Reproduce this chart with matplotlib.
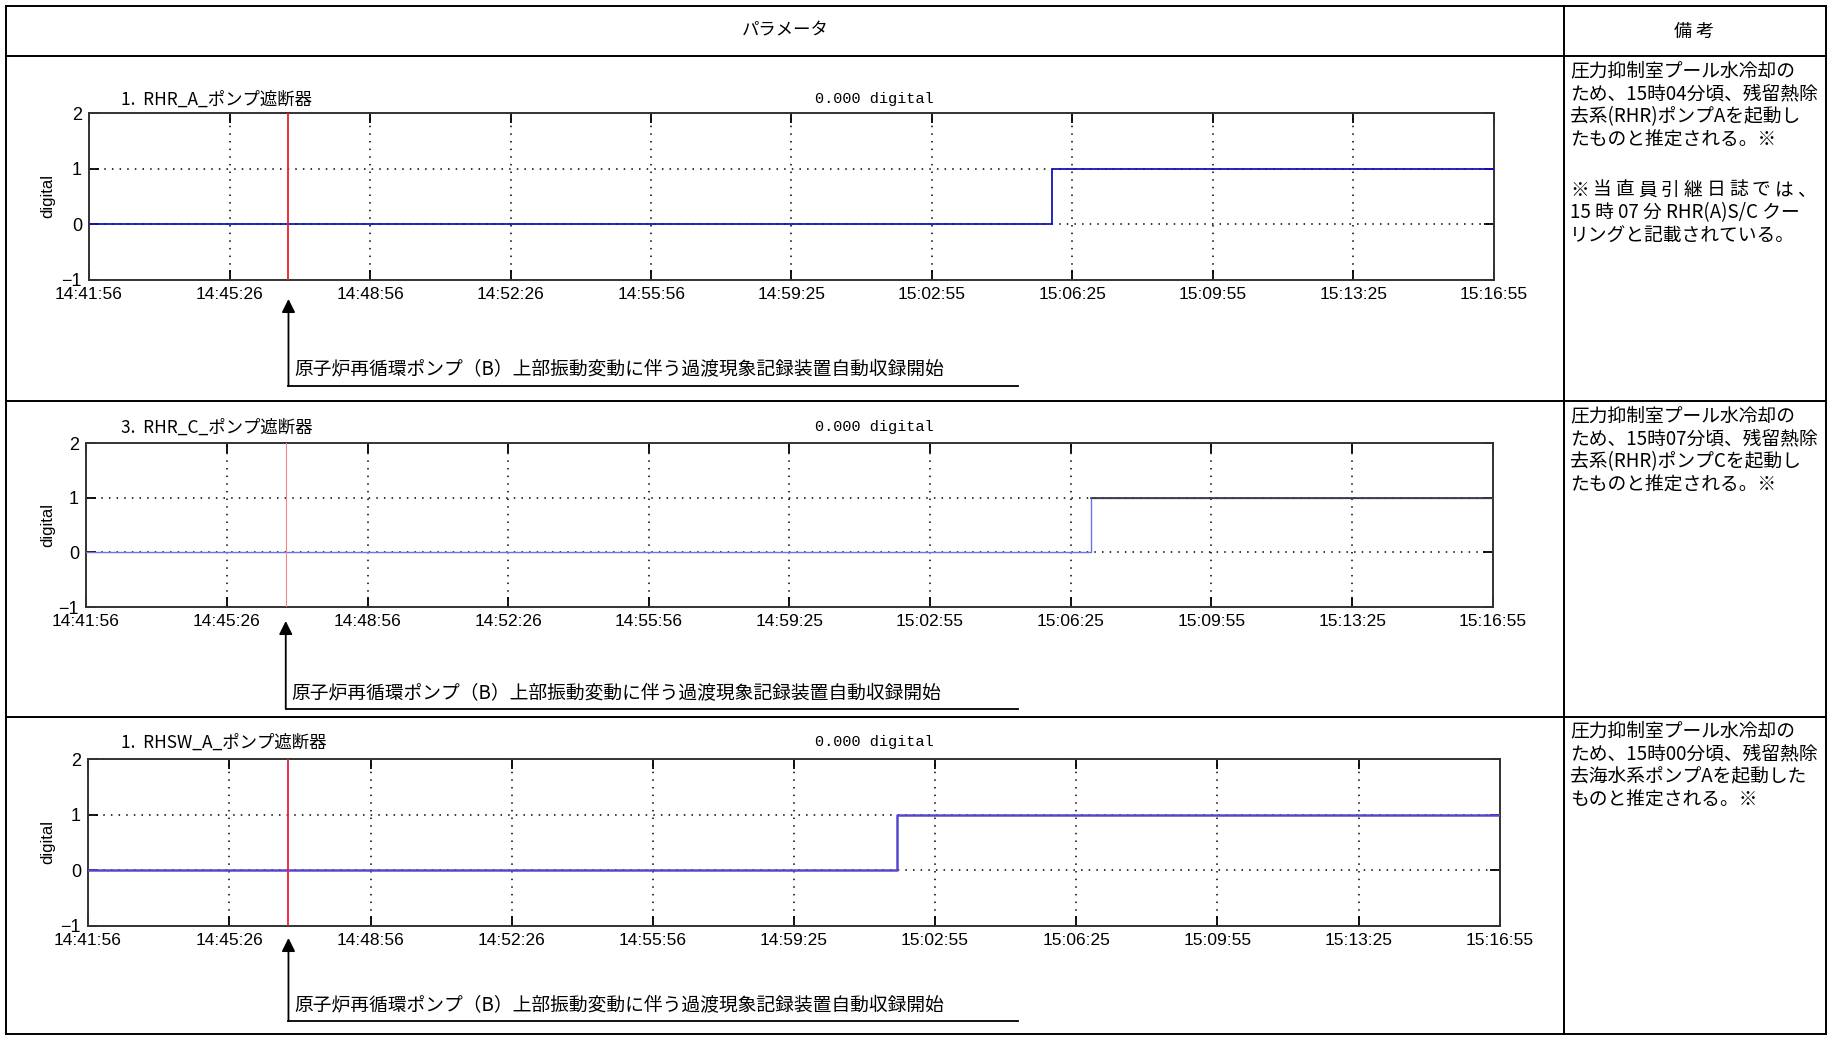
import numpy as np
import matplotlib
matplotlib.use("Agg")
import matplotlib.pyplot as plt

W, H = 1829, 1038

plt.rcParams['font.family'] = ['Noto Sans CJK JP', 'DejaVu Sans']
NARROW = ['Liberation Sans Narrow', 'Liberation Sans', 'DejaVu Sans']

# ---- data ----
TICK_LABELS = ["14:41:56", "14:45:26", "14:48:56", "14:52:26", "14:55:56", "14:59:25",
               "15:02:55", "15:06:25", "15:09:55", "15:13:25", "15:16:55"]
Y_TICKS = [-1, 0, 1, 2]

TITLES = ["1.  RHR_A_ポンプ遮断器", "3.  RHR_C_ポンプ遮断器", "1.  RHSW_A_ポンプ遮断器"]
READOUTS = ["0.000 digital", "0.000 digital", "0.000 digital"]

rhr_a_times = ["14:41:56", "15:05:55", "15:16:55"]
rhr_a_values = [0, 1, 1]
rhr_c_times = ["14:41:56", "15:06:55", "15:16:55"]
rhr_c_values = [0, 1, 1]
rhsw_a_times = ["14:41:56", "15:01:58", "15:16:55"]
rhsw_a_values = [0, 1, 1]

TRIGGER_TIME = "14:46:54"
TRIGGER_NOTE = "原子炉再循環ポンプ（B）上部振動変動に伴う過渡現象記録装置自動収録開始"

HEADER_LEFT = "パラメータ"
HEADER_RIGHT = "備 考"

remark_a1 = ["圧力抑制室プール水冷却の", "ため、15時04分頃、残留熱除",
             "去系(RHR)ポンプAを起動し", "たものと推定される。※"]
remark_a2 = ["※当直員引継日誌では、", "15 時 07 分 RHR(A)S/C クー",
             "リングと記載されている。"]
remark_c = ["圧力抑制室プール水冷却の", "ため、15時07分頃、残留熱除",
            "去系(RHR)ポンプCを起動し", "たものと推定される。※"]
remark_sw = ["圧力抑制室プール水冷却の", "ため、15時00分頃、残留熱除",
             "去海水系ポンプAを起動した", "ものと推定される。※"]
JUSTIFIED = {"※当直員引継日誌では、"}


def secs(s):
    h, m, x = map(int, s.split(":"))
    return h * 3600 + m * 60 + x - (14 * 3600 + 41 * 60 + 56)


# ---- layout (pixels, top-left origin) ----
ROWS = [
    dict(box=(89, 113, 1494, 280), title_y=100, tip=299, line_y=386, note_y=370,
         times=rhr_a_times, values=rhr_a_values, color='#1414b4', lw=1.3,
         red='#e8202a', red_lw=1.3, high=None, remark=[(71, remark_a1), (190, remark_a2)]),
    dict(box=(86, 443, 1493, 607), title_y=428, tip=621, line_y=709, note_y=694,
         times=rhr_c_times, values=rhr_c_values, color='#7070e8', lw=1.0,
         red='#f08a8a', red_lw=0.8, high='#333333', remark=[(416, remark_c)]),
    dict(box=(88, 759, 1500, 926), title_y=743, tip=938, line_y=1021, note_y=1006,
         times=rhsw_a_times, values=rhsw_a_values, color='#5548d0', lw=1.8,
         red='#e8203c', red_lw=1.3, high=None, remark=[(731, remark_sw)]),
]
REMARK_X, REMARK_END, PITCH, REMARK_FS = 1570, 1816, 23, 13.5

fig = plt.figure(figsize=(W / 100, H / 100), dpi=100)
ov = fig.add_axes([0, 0, 1, 1])
ov.set_xlim(0, W)
ov.set_ylim(H, 0)
ov.axis('off')

# table frame
L, T, R, B = 6, 6, 1826, 1034
COL = 1564
for y in [T, 56, 401, 717, B]:
    ov.plot([L, R], [y, y], color='black', lw=1.4)
for x in [L, COL, R]:
    ov.plot([x, x], [T, B], color='black', lw=1.4)
ov.text(785, 30, HEADER_LEFT, ha='center', va='center', fontsize=12.5)
ov.text(1694, 32, HEADER_RIGHT, ha='center', va='center', fontsize=13)

tick_pos = [secs(t) for t in TICK_LABELS]
for row, title, readout in zip(ROWS, TITLES, READOUTS):
    l, t, r, b = row['box']
    ax = fig.add_axes([l / W, 1 - b / H, (r - l) / W, (b - t) / H])
    ts = [secs(s) for s in row['times']]
    ax.plot(ts, row['values'], drawstyle='steps-post', color=row['color'], lw=row['lw'], zorder=3)
    if row['high']:
        ax.plot(ts[1:], row['values'][1:], color=row['high'], lw=1.2, zorder=4)
    ax.axvline(secs(TRIGGER_TIME), color=row['red'], lw=row['red_lw'], zorder=5)
    ax.set_xlim(tick_pos[0], tick_pos[-1])
    ax.set_ylim(-1, 2)
    ax.set_xticks(tick_pos)
    ax.set_xticklabels(TICK_LABELS, family=NARROW, fontsize=12.5)
    ax.set_yticks(Y_TICKS)
    ax.set_yticklabels([str(v).replace('-', '\u2212') for v in Y_TICKS], family=NARROW, fontsize=13)
    ax.grid(True, color='black', linestyle=(0, (1, 4)), linewidth=1.1)
    ax.tick_params(direction='in', length=7, width=1.3, top=True, right=True, pad=5)
    for sp in ax.spines.values():
        sp.set_linewidth(1.4)
        sp.set_color('#333333')
    ax.set_ylabel('digital', family=['Liberation Sans', 'DejaVu Sans'], fontsize=12)
    ax.yaxis.set_label_coords((55 - l) / (r - l), 0.5)

    ov.text(121, row['title_y'], title, ha='left', va='center', fontsize=12.5)
    ov.text(874, row['title_y'] - 1, readout, ha='center', va='center',
            family=['Liberation Mono', 'DejaVu Sans Mono'], fontsize=11)

    # trigger arrow and note
    rx = ax.transData.transform((secs(TRIGGER_TIME), 0))[0]
    ov.annotate('', xy=(rx, row['tip']), xytext=(rx, row['line_y']),
                arrowprops=dict(arrowstyle='-|>', color='black', lw=1.3,
                                mutation_scale=20, shrinkA=0, shrinkB=0))
    ov.plot([rx, 1018], [row['line_y'], row['line_y']], color='black', lw=1.3)
    ov.text(rx + 6, row['note_y'], TRIGGER_NOTE, ha='left', va='center', fontsize=13.5)

    # remarks column
    em = REMARK_FS * 100 / 72
    for y0, lines in row['remark']:
        for i, txt in enumerate(lines):
            y = y0 + i * PITCH
            if txt in JUSTIFIED:
                step = (REMARK_END - REMARK_X - em) / (len(txt) - 1)
                for k, ch in enumerate(txt):
                    ov.text(REMARK_X + k * step, y, ch, ha='left', va='center', fontsize=REMARK_FS)
            else:
                ov.text(REMARK_X, y, txt, ha='left', va='center', fontsize=REMARK_FS)

fig.savefig('out.png', dpi=100, facecolor='white')
